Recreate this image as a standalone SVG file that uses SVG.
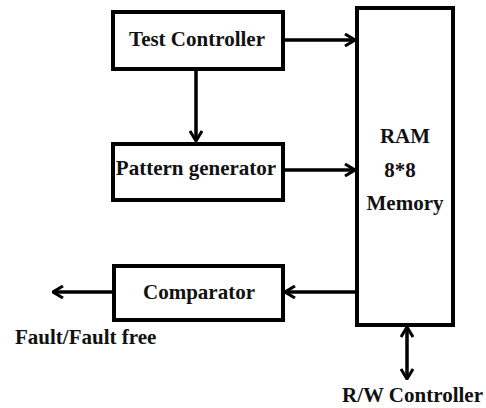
<svg xmlns="http://www.w3.org/2000/svg" width="486" height="408" viewBox="0 0 486 408">
<defs>
<marker id="ah" viewBox="0 0 12 14" refX="11" refY="7" markerWidth="12" markerHeight="14" markerUnits="userSpaceOnUse" orient="auto-start-reverse">
<path d="M1,1 L11,7 L1,13" fill="none" stroke="#000" stroke-width="3"/>
</marker>
<style>
.box{fill:#fff;stroke:#000;stroke-width:4}
.t{font-family:'Liberation Serif','Times New Roman',serif;font-weight:bold;font-size:21px;fill:#111}
.c{fill:none;stroke:#000;stroke-width:3.5}
</style>
</defs>
<rect width="486" height="408" fill="#fff"/>
<g id="connectors">
<path class="c" d="M283,40 H355" marker-end="url(#ah)"/>
<path class="c" d="M196,69 V141" marker-end="url(#ah)"/>
<path class="c" d="M283,170 H355" marker-end="url(#ah)"/>
<path class="c" d="M356,292 H285" marker-end="url(#ah)"/>
<path class="c" d="M113,292 H53" marker-end="url(#ah)"/>
<path class="c" d="M407,327 V379" marker-start="url(#ah)" marker-end="url(#ah)"/>
</g>
<g id="test-controller">
<rect class="box" x="113" y="12" width="170" height="57"/>
<text class="t" x="197" y="46" text-anchor="middle" font-family="Liberation Serif, serif">Test Controller</text>
</g>
<g id="pattern-generator">
<rect class="box" x="113" y="144" width="170" height="56"/>
<text class="t" x="196" y="175" text-anchor="middle" font-family="Liberation Serif, serif">Pattern generator</text>
</g>
<g id="ram">
<rect class="box" x="357" y="8" width="96" height="317"/>
<text class="t" x="405" y="143" text-anchor="middle" font-family="Liberation Serif, serif">RAM</text>
<text class="t" x="400" y="177" text-anchor="middle" font-family="Liberation Serif, serif">8*8</text>
<text class="t" x="405" y="210" text-anchor="middle" font-family="Liberation Serif, serif">Memory</text>
</g>
<g id="comparator">
<rect class="box" x="114" y="266" width="169" height="54"/>
<text class="t" x="199" y="299" text-anchor="middle" font-family="Liberation Serif, serif">Comparator</text>
</g>
<g id="fault-label">
<text class="t" x="15" y="344" font-family="Liberation Serif, serif">Fault/Fault free</text>
</g>
<g id="rw-controller">
<text class="t" x="342" y="402" font-family="Liberation Serif, serif">R/W Controller</text>
</g>
</svg>
